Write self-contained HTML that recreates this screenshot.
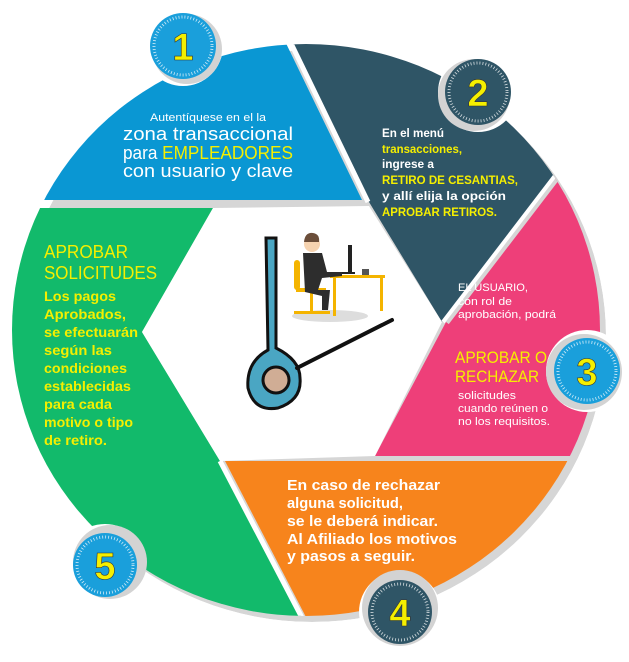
<!DOCTYPE html>
<html><head><meta charset="utf-8"><style>
html,body{margin:0;padding:0;background:#fff;width:629px;height:662px;overflow:hidden}
svg{display:block}
text{font-family:"Liberation Sans",sans-serif}
</style></head><body>
<svg width="629" height="662" viewBox="0 0 629 662" xmlns="http://www.w3.org/2000/svg">
<defs>
<clipPath id="c"><ellipse cx="306" cy="330" rx="294" ry="286"/></clipPath>
<clipPath id="cs"><ellipse cx="312" cy="336" rx="294" ry="286"/></clipPath>
</defs>
<g clip-path="url(#cs)" fill="#d6d6d6">
<ellipse cx="312" cy="336" rx="294" ry="286"/>
</g>
<g clip-path="url(#c)">
<polygon points="0,0 265,0 362,200 0,200" fill="#0a97d3"/>
<polygon points="272,0 690,0 442,322 369,202" fill="#2f5566"/>
<polygon points="690,0 700,0 700,456 375,456 446,322" fill="#ee3f79"/>
<polygon points="225,461 700,461 700,700 349,700" fill="#f7841c"/>
<polygon points="0,208 213,208 142,332 220,461 345,700 0,700" fill="#12ba6b"/>
<line x1="446" y1="322" x2="700" y2="-10" stroke="#d6d6d6" stroke-width="7"/>
<line x1="443" y1="322" x2="697" y2="-10" stroke="#fff" stroke-width="4"/>
<line x1="220" y1="461" x2="345" y2="700" stroke="#fff" stroke-width="5"/>
<line x1="368" y1="202" x2="270" y2="0" stroke="#fff" stroke-width="5"/>
</g>
<polygon points="213,208 369,206 442,322 375,456 220,461 142,332" fill="#fff"/>
<g>
<circle cx="183" cy="46" r="40" fill="#fff"/><circle cx="187" cy="49" r="35" fill="#d3d3d3"/>
<circle cx="183" cy="46" r="33" fill="#1a9fdb"/><circle cx="183" cy="46" r="29" fill="none" stroke="#fff" stroke-width="3" stroke-dasharray="0.8 2.2" opacity="0.8"/>
<text x="183" y="60" font-size="38" font-weight="bold" fill="#f5ef00" text-anchor="middle" stroke="#333" stroke-width="0.6">1</text>
</g>
<g>
<circle cx="478" cy="92" r="40" fill="#fff"/><circle cx="474" cy="95" r="36" fill="#d3d3d3"/>
<circle cx="478" cy="92" r="33" fill="#2f5566"/><circle cx="478" cy="92" r="29" fill="none" stroke="#fff" stroke-width="3" stroke-dasharray="0.8 2.2" opacity="0.8"/>
<text x="478" y="106" font-size="38" font-weight="bold" fill="#f5ef00" text-anchor="middle" stroke="#333" stroke-width="0.6">2</text>
</g>
<g>
<circle cx="587" cy="371" r="41" fill="#fff"/><circle cx="584" cy="372" r="38" fill="#d3d3d3"/>
<circle cx="587" cy="371" r="33" fill="#1a9fdb"/><circle cx="587" cy="371" r="29" fill="none" stroke="#fff" stroke-width="3" stroke-dasharray="0.8 2.2" opacity="0.8"/>
<text x="587" y="385" font-size="38" font-weight="bold" fill="#f5ef00" text-anchor="middle" stroke="#333" stroke-width="0.6">3</text>
</g>
<g>
<circle cx="400" cy="612" r="41" fill="#fff"/><circle cx="400" cy="608" r="38" fill="#d3d3d3"/>
<circle cx="400" cy="612" r="32" fill="#2f5566"/><circle cx="400" cy="612" r="28" fill="none" stroke="#fff" stroke-width="3" stroke-dasharray="0.8 2.2" opacity="0.8"/>
<text x="400" y="626" font-size="38" font-weight="bold" fill="#f5ef00" text-anchor="middle" stroke="#333" stroke-width="0.6">4</text>
</g>
<g>
<circle cx="105" cy="565" r="41" fill="#fff"/><circle cx="110" cy="562" r="37" fill="#d3d3d3"/>
<circle cx="105" cy="565" r="32" fill="#1a9fdb"/><circle cx="105" cy="565" r="28" fill="none" stroke="#fff" stroke-width="3" stroke-dasharray="0.8 2.2" opacity="0.8"/>
<text x="105" y="579" font-size="38" font-weight="bold" fill="#f5ef00" text-anchor="middle" stroke="#333" stroke-width="0.6">5</text>
</g>
<g fill="#fff" text-anchor="middle">
<text x="208" y="121" font-size="11" textLength="116" lengthAdjust="spacingAndGlyphs">Autentíquese en el la</text>
<text x="208" y="140" font-size="18" textLength="170" lengthAdjust="spacingAndGlyphs">zona transaccional</text>
<text x="208" y="159" font-size="18" textLength="170" lengthAdjust="spacingAndGlyphs">para <tspan fill="#f5ef00">EMPLEADORES</tspan></text>
<text x="208" y="177" font-size="18" textLength="170" lengthAdjust="spacingAndGlyphs">con usuario y clave</text>
</g>
<g font-size="12" font-weight="bold" fill="#fff">
<text x="382" y="137" textLength="62" lengthAdjust="spacingAndGlyphs">En el menú</text>
<text x="382" y="153" fill="#f5ef00" textLength="80" lengthAdjust="spacingAndGlyphs">transacciones,</text>
<text x="382" y="168" textLength="52" lengthAdjust="spacingAndGlyphs">ingrese a</text>
<text x="382" y="184" fill="#f5ef00" textLength="136" lengthAdjust="spacingAndGlyphs">RETIRO DE CESANTIAS,</text>
<text x="382" y="200" textLength="124" lengthAdjust="spacingAndGlyphs">y allí elija la opción</text>
<text x="382" y="216" fill="#f5ef00" textLength="115" lengthAdjust="spacingAndGlyphs">APROBAR RETIROS.</text>
</g>
<g fill="#fff" font-size="11">
<text x="458" y="291" textLength="70" lengthAdjust="spacingAndGlyphs">EL USUARIO,</text>
<text x="458" y="305" textLength="54" lengthAdjust="spacingAndGlyphs">con rol de</text>
<text x="458" y="318" textLength="98" lengthAdjust="spacingAndGlyphs">aprobación, podrá</text>
<text x="455" y="363" font-size="17" fill="#f5ef00" textLength="92" lengthAdjust="spacingAndGlyphs">APROBAR O</text>
<text x="455" y="382" font-size="17" fill="#f5ef00" textLength="84" lengthAdjust="spacingAndGlyphs">RECHAZAR</text>
<text x="458" y="399" textLength="58" lengthAdjust="spacingAndGlyphs">solicitudes</text>
<text x="458" y="412" textLength="90" lengthAdjust="spacingAndGlyphs">cuando reúnen o</text>
<text x="458" y="425" textLength="92" lengthAdjust="spacingAndGlyphs">no los requisitos.</text>
</g>
<g fill="#f5ef00">
<text x="44" y="258" font-size="18" textLength="84" lengthAdjust="spacingAndGlyphs">APROBAR</text>
<text x="44" y="279" font-size="18" textLength="113" lengthAdjust="spacingAndGlyphs">SOLICITUDES</text>
<g font-size="14" font-weight="bold">
<text x="44" y="301" textLength="72" lengthAdjust="spacingAndGlyphs">Los pagos</text>
<text x="44" y="319" textLength="82" lengthAdjust="spacingAndGlyphs">Aprobados,</text>
<text x="44" y="337" textLength="94" lengthAdjust="spacingAndGlyphs">se efectuarán</text>
<text x="44" y="355" textLength="68" lengthAdjust="spacingAndGlyphs">según las</text>
<text x="44" y="373" textLength="83" lengthAdjust="spacingAndGlyphs">condiciones</text>
<text x="44" y="391" textLength="87" lengthAdjust="spacingAndGlyphs">establecidas</text>
<text x="44" y="409" textLength="68" lengthAdjust="spacingAndGlyphs">para cada</text>
<text x="44" y="427" textLength="89" lengthAdjust="spacingAndGlyphs">motivo o tipo</text>
<text x="44" y="445" textLength="63" lengthAdjust="spacingAndGlyphs">de retiro.</text>
</g>
</g>
<g fill="#fff" font-size="14.5" font-weight="bold">
<text x="287" y="490" textLength="153" lengthAdjust="spacingAndGlyphs">En caso de rechazar</text>
<text x="287" y="508" textLength="116" lengthAdjust="spacingAndGlyphs">alguna solicitud,</text>
<text x="287" y="526" textLength="151" lengthAdjust="spacingAndGlyphs">se le deberá indicar.</text>
<text x="287" y="544" textLength="170" lengthAdjust="spacingAndGlyphs">Al Afiliado los motivos</text>
<text x="287" y="561" textLength="128" lengthAdjust="spacingAndGlyphs">y pasos a seguir.</text>
</g>
<g>
<path d="M266,238 L276,238 L276,348 Q300,360 300,378 Q302,400 278,408 Q254,412 248,388 Q246,362 268,350 Z" fill="#4aa6c3" stroke="#111" stroke-width="3"/>
<circle cx="276" cy="380" r="13" fill="#d0ad95" stroke="#111" stroke-width="3"/>
<line x1="297" y1="368" x2="392" y2="320" stroke="#111" stroke-width="4" stroke-linecap="round"/>
<ellipse cx="330" cy="316" rx="38" ry="6" fill="#ddd"/>
<rect x="330" y="275" width="55" height="3" fill="#f4b400"/>
<rect x="333" y="278" width="3" height="38" fill="#f4b400"/>
<rect x="380" y="278" width="3" height="33" fill="#f4b400"/>
<rect x="348" y="245" width="4" height="28" fill="#222"/>
<rect x="341" y="272" width="14" height="2" fill="#222"/>
<rect x="362" y="269" width="7" height="6" fill="#555"/>
<rect x="294" y="260" width="6" height="30" rx="3" fill="#f4b400"/>
<rect x="296" y="288" width="30" height="4" fill="#f4b400"/>
<rect x="310" y="292" width="3" height="20" fill="#f4b400"/>
<rect x="294" y="311" width="36" height="3" fill="#f4b400"/>
<circle cx="312" cy="244" r="8" fill="#f6d3b0"/>
<path d="M304,242 Q305,232 313,233 Q320,234 319,242 Z" fill="#6b4e3a"/>
<path d="M303,253 L322,253 L327,272 L342,272 L342,276 L322,278 L318,290 L330,290 L328,310 L322,310 L322,296 L305,292 Z" fill="#2d2d2d"/>
</g>
</svg>
</body></html>
